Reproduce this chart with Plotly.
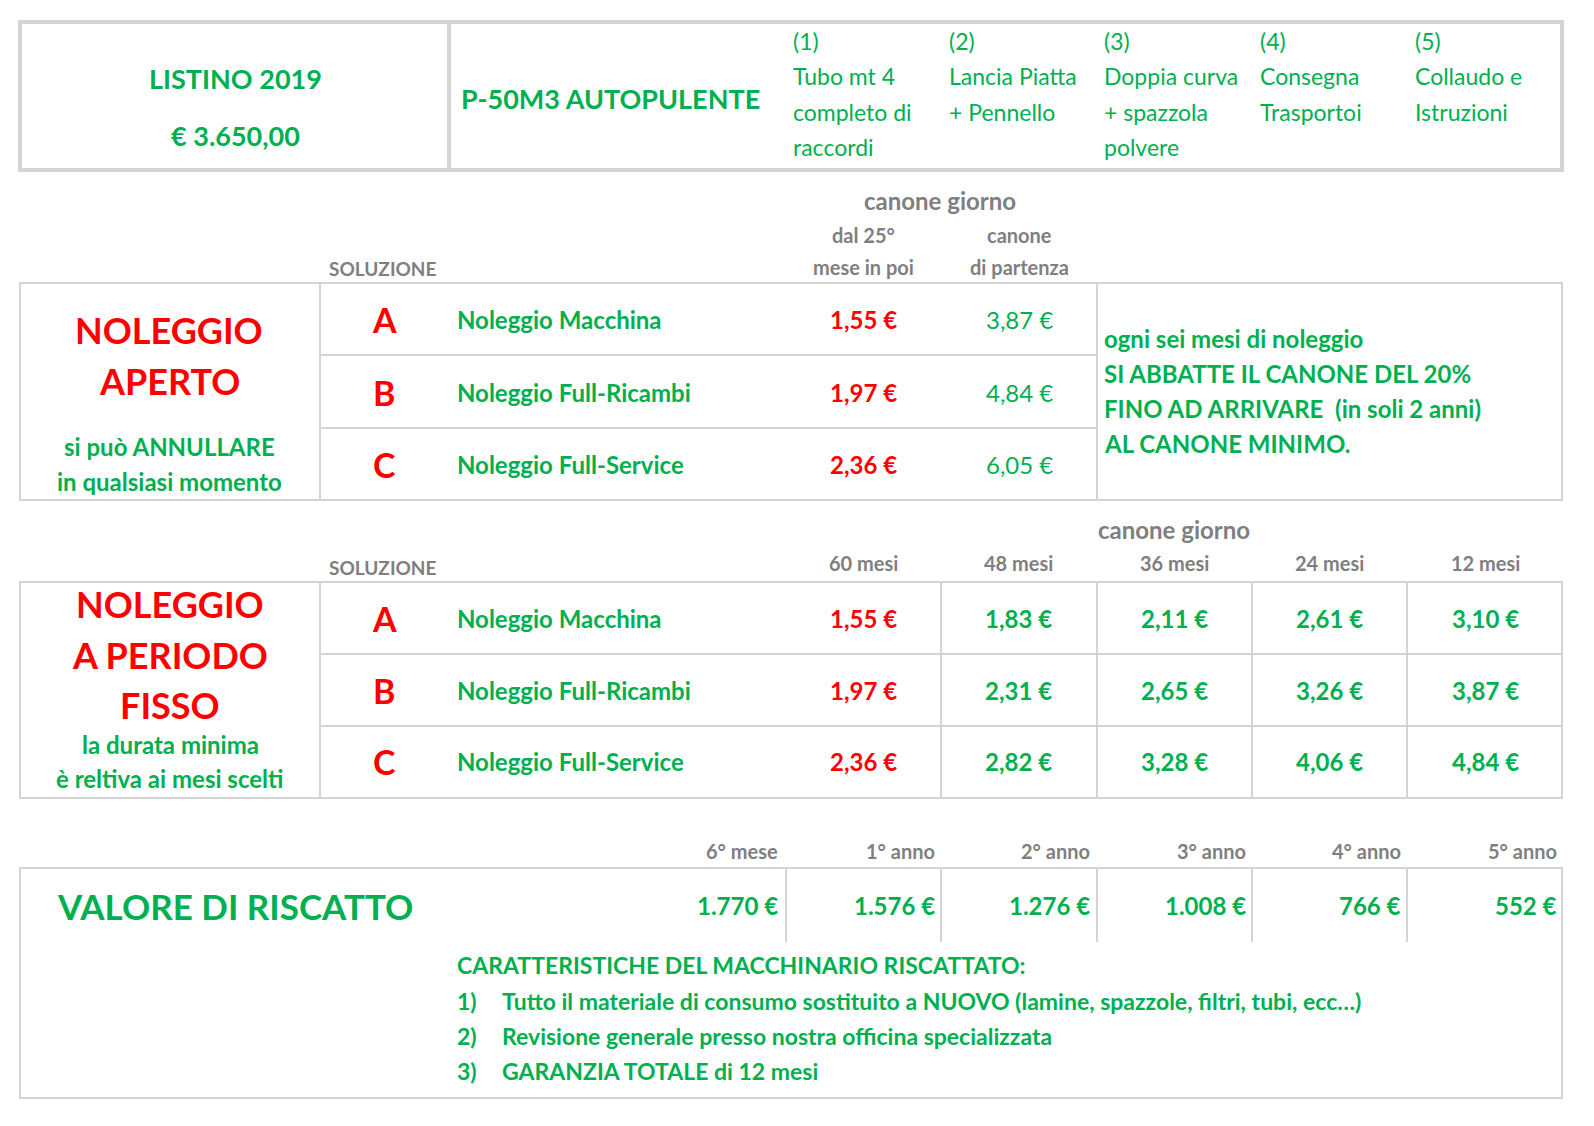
import plotly.graph_objects as go

GREEN = "#00B050"; RED = "#FF0000"; GREY = "#7F7F7F"; LINE = "#D4D4D4"
FONT = "Lato"

listino = ["LISTINO 2019", "€ 3.650,00"]
model = "P-50M3 AUTOPULENTE"
items = [["(1)", "Tubo mt 4", "completo di", "raccordi"],
         ["(2)", "Lancia Piatta", "+ Pennello"],
         ["(3)", "Doppia curva", "+ spazzola", "polvere"],
         ["(4)", "Consegna", "Trasportoi"],
         ["(5)", "Collaudo e", "Istruzioni"]]
letters = ["A", "B", "C"]
names = ["Noleggio Macchina", "Noleggio Full-Ricambi", "Noleggio Full-Service"]
min_fee = ["1,55 €", "1,97 €", "2,36 €"]
start_fee = ["3,87 €", "4,84 €", "6,05 €"]
note = ["ogni sei mesi di noleggio", "SI ABBATTE IL CANONE DEL 20%",
        "FINO AD ARRIVARE  (in soli 2 anni)", "AL CANONE MINIMO."]
periods = ["60 mesi", "48 mesi", "36 mesi", "24 mesi", "12 mesi"]
fixed = [["1,55 €", "1,83 €", "2,11 €", "2,61 €", "3,10 €"],
         ["1,97 €", "2,31 €", "2,65 €", "3,26 €", "3,87 €"],
         ["2,36 €", "2,82 €", "3,28 €", "4,06 €", "4,84 €"]]
ransom_labels = ["6° mese", "1° anno", "2° anno", "3° anno", "4° anno", "5° anno"]
ransom_vals = ["1.770 €", "1.576 €", "1.276 €", "1.008 €", "766 €", "552 €"]
features = ["Tutto il materiale di consumo sostituito a NUOVO (lamine, spazzole, filtri, tubi, ecc…)",
            "Revisione generale presso nostra officina specializzata",
            "GARANZIA TOTALE di 12 mesi"]

fig = go.Figure()
ann = []
shapes = []

def T(x, y, s, size=24, color=GREEN, bold=True, anchor="center"):
    txt = f"<b>{s}</b>" if bold else s
    ann.append(dict(x=x, y=y, text=txt, showarrow=False, xanchor=anchor, yanchor="middle",
                    font=dict(family=FONT, size=size, color=color)))

def L(x0, y0, x1, y1, w=2):
    shapes.append(dict(type="line", x0=x0, y0=y0, x1=x1, y1=y1, line=dict(color=LINE, width=w)))

def R(x0, y0, x1, y1, w=2):
    shapes.append(dict(type="rect", x0=x0, y0=y0, x1=x1, y1=y1, line=dict(color=LINE, width=w)))

# top box
R(12, 14, 1554, 162, 4); L(441, 14, 441, 162, 4)
T(227, 70, listino[0], 27); T(227, 127, listino[1], 27)
T(451, 90, model, 27, anchor="left")
for i, it in enumerate(items):
    for j, s in enumerate(it):
        T(783 + i * 155.5, 33 + j * 35.3, s, 23, bold=False, anchor="left")

# section 1
T(932, 192, "canone giorno", 24, GREY)
T(855, 227, "dal 25°", 20, GREY); T(855, 259, "mese in poi", 20, GREY)
T(1011, 227, "canone", 20, GREY); T(1011, 259, "di partenza", 20, GREY)
T(375, 260, "SOLUZIONE", 19, GREY)
R(12, 275, 1554, 492); L(312, 275, 312, 492); L(1089, 275, 1089, 492)
L(312, 347, 1089, 347); L(312, 420, 1089, 420)
rows1 = [311, 384, 456]
for k, y in enumerate(rows1):
    T(376, y, letters[k], 34, RED); T(447, y, names[k], 24, anchor="left")
    T(855, y, min_fee[k], 24, RED); T(1011, y, start_fee[k], 24, bold=False)
T(161, 322, "NOLEGGIO", 36, RED); T(161, 373, "APERTO", 36, RED)
T(161, 438, "si può ANNULLARE", 24); T(161, 473, "in qualsiasi momento", 24)
for j, s in enumerate(note):
    T(1094, 330 + j * 35.3, s, 24, anchor="left")

# section 2
T(1166, 521, "canone giorno", 24, GREY)
T(375, 559, "SOLUZIONE", 19, GREY)
cols = [855, 1010, 1166, 1321, 1477]
for c, p in zip(cols, periods):
    T(c, 555, p, 20, GREY)
R(12, 574, 1554, 790); L(312, 574, 312, 790)
for x in [933, 1089, 1244, 1399]:
    L(x, 574, x, 790)
L(312, 646, 1554, 646); L(312, 718, 1554, 718)
rows2 = [610, 682, 753]
for k, y in enumerate(rows2):
    T(376, y, letters[k], 34, RED); T(447, y, names[k], 24, anchor="left")
    for i, c in enumerate(cols):
        T(c, y, fixed[k][i], 24, RED if i == 0 else GREEN)
T(162, 596, "NOLEGGIO", 36, RED); T(162, 647, "A PERIODO", 36, RED); T(162, 697, "FISSO", 36, RED)
T(162, 736, "la durata minima", 24); T(162, 770, "è reltiva ai mesi scelti", 24)

# section 3
rx = [772, 929, 1084, 1240, 1395, 1551]
for x, lab, v in zip(rx, ransom_labels, ransom_vals):
    T(x, 843, lab, 20, GREY, anchor="right")
    T(x, 897, v, 24, anchor="right")
R(12, 860, 1554, 1090)
for x in [778, 933, 1089, 1244, 1399]:
    L(x, 860, x, 934)
T(227, 898, "VALORE DI RISCATTO", 35)
T(447, 957, "CARATTERISTICHE DEL MACCHINARIO RISCATTATO:", 23, anchor="left")
for j, s in enumerate(features):
    y = 993 + j * 35
    T(447, y, f"{j+1})", 23, anchor="left"); T(492, y, s, 23, anchor="left")

fig.update_layout(width=1594, height=1126, margin=dict(l=0, r=0, t=0, b=0),
                  plot_bgcolor="white", paper_bgcolor="white",
                  xaxis=dict(range=[0, 1594], visible=False, fixedrange=True),
                  yaxis=dict(range=[1126, 0], visible=False, fixedrange=True),
                  annotations=ann, shapes=shapes, showlegend=False)
fig.write_html("out.html")
